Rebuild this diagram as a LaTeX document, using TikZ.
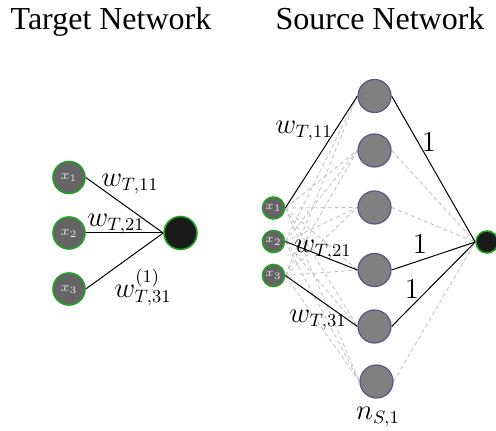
\documentclass[tikz,border=0pt]{standalone}
\usepackage{fontspec}
\newfontfamily\titlefont{Liberation Serif}
\usetikzlibrary{backgrounds}
\definecolor{ingreen}{HTML}{22A022}
\definecolor{ingray}{HTML}{646464}
\definecolor{hidgray}{HTML}{808080}
\definecolor{hidborder}{HTML}{575785}
\definecolor{outblack}{HTML}{1A1A1A}
\definecolor{lblwhite}{HTML}{E8E8E8}
\begin{document}
\begin{tikzpicture}[x=0.5pt,y=-0.5pt,
  inp/.style={circle,draw=ingreen,fill=ingray,line width=0.8pt,inner sep=0pt,minimum size=16pt,text=lblwhite,font=\fontsize{7.5}{8}\selectfont},
  sinp/.style={inp,minimum size=11pt,font=\fontsize{6.5}{7}\selectfont},
  hid/.style={circle,draw=hidborder,fill=hidgray,line width=0.6pt,inner sep=0pt,minimum size=16.5pt},
  outn/.style={circle,draw=ingreen,fill=outblack,line width=0.8pt,inner sep=0pt,minimum size=16.5pt},
  sout/.style={outn,minimum size=11pt},
  conn/.style={black,line width=0.5pt},
  dconn/.style={gray!50,line width=0.4pt,dash pattern=on 2pt off 1.5pt},
  lbl/.style={font=\fontsize{13.5}{15}\selectfont,inner sep=0pt},
  onelbl/.style={font=\fontsize{14.5}{16}\selectfont,inner sep=0pt},
  title/.style={font=\titlefont\fontsize{16}{18}\selectfont,inner sep=0pt,anchor=base}]
\useasboundingbox (0,0) rectangle (496,431);
% titles
\node[title] (t1) at (111,30) {Target Network};
\node[title] (t2) at (380,30) {Source Network};
% target network
\node[inp] (tx1) at (69,177.5) {$x_1$};
\node[inp] (tx2) at (69,233) {$x_2$};
\node[inp] (tx3) at (69,289) {$x_3$};
\node[outn] (tout) at (180.5,233) {};
\begin{scope}[on background layer]
\draw[conn] (tx1.east) -- (tout.west);
\draw[conn] (tx2.east) -- (tout.west);
\draw[conn] (tx3.east) -- (tout.west);
\end{scope}
\node[lbl] (lw11) at (130,184) {$w_{T,11}$};
\node[lbl] (lw21) at (116,224) {$w_{T,21}$};
\node[lbl] (lw31) at (143,288) {$w^{(1)}_{T,31}$};
% source network
\node[sinp] (sx1) at (273.5,208) {$x_1$};
\node[sinp] (sx2) at (273.5,241.5) {$x_2$};
\node[sinp] (sx3) at (273.5,275.5) {$x_3$};
\node[hid] (h1) at (374.5,96) {};
\node[hid] (h2) at (374.5,150.5) {};
\node[hid] (h3) at (374.5,207.5) {};
\node[hid] (h4) at (374.5,270) {};
\node[hid] (h5) at (374.5,326.5) {};
\node[hid] (h6) at (376.5,381.5) {};
\node[sout] (sout) at (487,242) {};
\begin{scope}[on background layer]
\foreach \j in {2,3,4,5,6} \draw[dconn] (sx1.east) -- (h\j.west);
\foreach \j in {1,2,3,5,6} \draw[dconn] (sx2.east) -- (h\j.west);
\foreach \j in {1,2,3,4,6} \draw[dconn] (sx3.east) -- (h\j.west);
\foreach \j in {2,3,6} \draw[dconn] (h\j.east) -- (sout.west);
\draw[conn] (sx1.east) -- (h1.west);
\draw[conn] (sx2.east) -- (h4.west);
\draw[conn] (sx3.east) -- (h5.west);
\draw[conn] (h1.east) -- (sout.west);
\draw[conn] (h4.east) -- (sout.west);
\draw[conn] (h5.east) -- (sout.west);
\end{scope}
\node[lbl] (sw11) at (304,131) {$w_{T,11}$};
\node[lbl] (sw21) at (323,250) {$w_{T,21}$};
\node[lbl] (sw31) at (318,320) {$w_{T,31}$};
\node[onelbl] (one1) at (429,142) {$1$};
\node[onelbl] (one2) at (420,244) {$1$};
\node[onelbl] (one3) at (412,289) {$1$};
\node[lbl] (nS) at (378,417) {$n_{S,1}$};
\end{tikzpicture}
\end{document}
